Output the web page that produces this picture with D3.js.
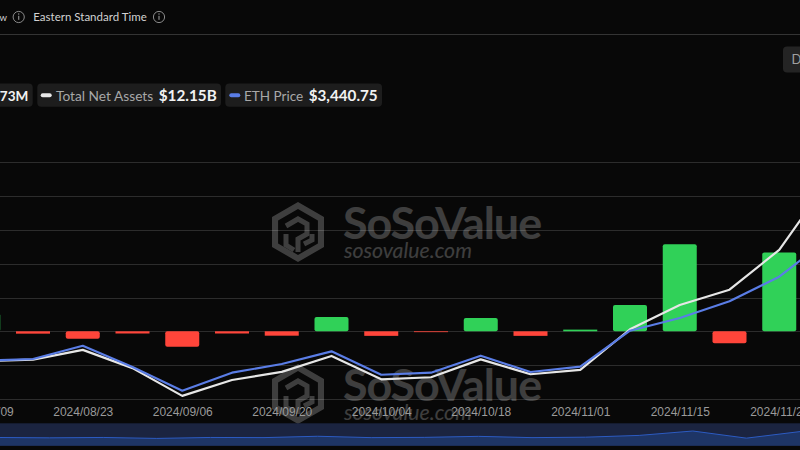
<!DOCTYPE html>
<html>
<head>
<meta charset="utf-8">
<script src="https://cdn.jsdelivr.net/npm/d3@7"></script>
<style>
html,body{margin:0;padding:0;background:#080808;overflow:hidden;}
svg{display:block;}
</style>
</head>
<body>
<svg id="chart" width="800" height="450"></svg>
<script>
// ---------- data ----------
const dates = ["2024-08-09","2024-08-16","2024-08-23","2024-08-30","2024-09-06","2024-09-13",
  "2024-09-20","2024-09-27","2024-10-04","2024-10-11","2024-10-18","2024-10-25",
  "2024-11-01","2024-11-08","2024-11-15","2024-11-22","2024-11-29","2024-12-06"];
// weekly net inflow, $M
const netInflow = [105,-14,-44,-13,-91,-13,-26,85,-27,-5,78,-27,10,155,515,-70,467,837];
// total net assets, $B
const totalNetAssets = [7.02,7.06,7.35,6.81,5.99,6.46,6.70,7.17,6.48,6.54,7.07,6.63,6.76,7.96,8.68,9.13,10.31,12.38];
// ETH price, $
const ethPrice = [2654,2672,2829,2577,2297,2510,2613,2763,2486,2510,2711,2518,2581,3007,3157,3355,3646,4104];
const xTickDates = ["2024-08-09","2024-08-23","2024-09-06","2024-09-20","2024-10-04","2024-10-18","2024-11-01","2024-11-15","2024-11-29"];
const barTicks = [-400,-200,0,200,400,600,800,1000];

const legendNetValue = "73M";
const legendAssetsLabel = "Total Net Assets", legendAssetsValue = "$12.15B";
const legendPriceLabel = "ETH Price", legendPriceValue = "$3,440.75";

// ---------- layout ----------
const svg = d3.select("#chart");
const W = 800, H = 450;
const plotTop = 162.3, plotBottom = 398.9;
const FONT = "Lato, 'Noto Sans', sans-serif";

// scale a text's font size so it spans a target width
function fit(sel, target){
  const n = sel.node();
  const fs = parseFloat(sel.attr("font-size"));
  const w = n.getComputedTextLength();
  if (w > 0) sel.attr("font-size", (fs * target / w).toFixed(2));
  return sel;
}

svg.append("rect").attr("width",W).attr("height",H).attr("fill","#080808");

const x = d3.scalePoint().domain(dates).range([-16.75, 829]);
const yBar = d3.scaleLinear().domain([-400,1000]).range([plotBottom, plotTop]);
const yAssets = d3.scaleLinear().domain([5.9,12.9]).range([plotBottom, plotTop]);
const yPrice = d3.scaleLinear().domain([2200,5000]).range([plotBottom, plotTop]);
const barW = 34;

// ---------- header ----------
const head = svg.append("g").attr("font-family", FONT);
fit(head.append("text").attr("x",7).attr("y",20.7).attr("text-anchor","end")
  .attr("font-size",13).attr("fill","#d2d2d2").text("w"), 7.5);
function infoIcon(cx, cy){
  const g = head.append("g");
  g.append("circle").attr("cx",cx).attr("cy",cy).attr("r",5.6).attr("fill","none")
    .attr("stroke","#8a8a8a").attr("stroke-width",1);
  g.append("rect").attr("x",cx-0.6).attr("y",cy-1.2).attr("width",1.2).attr("height",4).attr("fill","#8a8a8a");
  g.append("circle").attr("cx",cx).attr("cy",cy-2.9).attr("r",0.75).attr("fill","#8a8a8a");
}
infoIcon(18.7, 17);
fit(head.append("text").attr("x",33.3).attr("y",20.7).attr("font-size",13).attr("fill","#d2d2d2")
  .text("Eastern Standard Time"), 113.4);
infoIcon(159, 17);
svg.append("line").attr("x1",0).attr("x2",W).attr("y1",34.5).attr("y2",34.5)
  .attr("stroke","#343434").attr("stroke-width",1);

// D button
svg.append("rect").attr("x",783).attr("y",46.5).attr("width",30).attr("height",26).attr("rx",4)
  .attr("fill","#242424");
svg.append("text").attr("x",791.5).attr("y",64.2).attr("font-family",FONT).attr("font-size",13)
  .attr("fill","#a0a0a0").text("D");

// ---------- legend ----------
const leg = svg.append("g").attr("font-family", FONT);
const pills = [[-10,32.7],[37.3,221],[225.3,382]];
pills.forEach(p => leg.append("rect").attr("x",p[0]).attr("y",83.5).attr("width",p[1]-p[0])
  .attr("height",23.3).attr("rx",4).attr("fill","#1d1d1d"));
fit(leg.append("text").attr("x",28.3).attr("y",100.8).attr("text-anchor","end").attr("font-size",16)
  .attr("font-weight",700).attr("fill","#f2f2f2").text(legendNetValue), 28.5);
leg.append("rect").attr("x",40.7).attr("y",93.3).attr("width",11).attr("height",4).attr("rx",2).attr("fill","#e8e8e8");
fit(leg.append("text").attr("x",56).attr("y",100.8).attr("font-size",15).attr("fill","#a8a8a8").text(legendAssetsLabel), 97.3);
fit(leg.append("text").attr("x",216.7).attr("y",100.8).attr("text-anchor","end").attr("font-size",16)
  .attr("font-weight",700).attr("fill","#f2f2f2").text(legendAssetsValue), 58);
leg.append("rect").attr("x",229.3).attr("y",93.3).attr("width",11).attr("height",4).attr("rx",2).attr("fill","#5a7de6");
fit(leg.append("text").attr("x",244).attr("y",100.8).attr("font-size",15).attr("fill","#a8a8a8").text(legendPriceLabel), 59.3);
fit(leg.append("text").attr("x",377.7).attr("y",100.8).attr("text-anchor","end").attr("font-size",16)
  .attr("font-weight",700).attr("fill","#f2f2f2").text(legendPriceValue), 69);

// ---------- grid ----------
svg.append("g").selectAll("line").data(barTicks).join("line")
  .attr("x1",0).attr("x2",W)
  .attr("y1",d=>Math.round(yBar(d))+0.5).attr("y2",d=>Math.round(yBar(d))+0.5)
  .attr("stroke","#2c2c2c").attr("stroke-width",1);

// ---------- watermarks ----------
function watermark(dy){
  const g = svg.append("g").attr("transform",`translate(0,${dy})`).attr("opacity",0.22);
  const cx = 298, cy = 232, r = 30;
  const hex = d3.range(6).map(i => {
    const a = Math.PI/180*(60*i - 90);
    return [cx + r*Math.cos(a), cy + r*Math.sin(a)];
  });
  const hexIn = d3.range(6).map(i => {
    const a = Math.PI/180*(60*i - 90);
    return [cx + (r-7)*Math.cos(a), cy + (r-7)*Math.sin(a)];
  });
  const path = "M" + hex.map(p=>p.join(",")).join("L") + "Z" +
               "M" + hexIn.reverse().map(p=>p.join(",")).join("L") + "Z";
  g.append("path").attr("d",path).attr("fill","#fff").attr("fill-rule","evenodd");
  const s = "#fff";
  g.append("path").attr("d",`M${cx-12},${cy-6} L${cx},${cy-13} L${cx+9},${cy-8} L${cx+9},${cy+2} L${cx},${cy+7} L${cx},${cy+20}`)
    .attr("fill","none").attr("stroke",s).attr("stroke-width",5).attr("stroke-linejoin","miter");
  g.append("path").attr("d",`M${cx-12},${cy+2} L${cx-12},${cy+13} L${cx-4},${cy+18}`)
    .attr("fill","none").attr("stroke",s).attr("stroke-width",5);
  g.append("path").attr("d",`M${cx+6},${cy+12} L${cx+14},${cy+8} L${cx+14},${cy+2}`)
    .attr("fill","none").attr("stroke",s).attr("stroke-width",5);
  fit(g.append("text").attr("x",343).attr("y",238.5).attr("font-family",FONT).attr("font-size",40)
    .attr("font-weight",700).attr("letter-spacing",-1).attr("fill","#fff").text("SoSoValue"), 197);
  fit(g.append("text").attr("x",344).attr("y",257.5).attr("font-family",FONT).attr("font-size",21)
    .attr("font-style","italic").attr("fill","#fff").text("sosovalue.com"), 128);
}
watermark(0);
watermark(162);

// ---------- bars ----------
svg.append("g").selectAll("rect").data(dates.map((d,i)=>({d, v:netInflow[i]}))).join("rect")
  .attr("x", d => x(d.d) - barW/2)
  .attr("width", barW)
  .attr("y", d => Math.min(yBar(d.v), yBar(0)))
  .attr("height", d => Math.abs(yBar(d.v) - yBar(0)))
  .attr("rx", d => Math.abs(yBar(d.v) - yBar(0)) > 5 ? 2 : 0)
  .attr("fill", d => d.v >= 0 ? "#30d158" : "#ff453a");

// ---------- lines ----------
const lineAssets = d3.line().x((d,i)=>x(dates[i])).y(d=>yAssets(d));
const linePrice = d3.line().x((d,i)=>x(dates[i])).y(d=>yPrice(d));
svg.append("path").attr("d", lineAssets(totalNetAssets)).attr("fill","none")
  .attr("stroke","#e6e6e6").attr("stroke-width",2.2).attr("stroke-linejoin","round");
svg.append("path").attr("d", linePrice(ethPrice)).attr("fill","none")
  .attr("stroke","#5a7de6").attr("stroke-width",2.2).attr("stroke-linejoin","round");

// ---------- x axis ----------
const fmt = d => d.replace(/-/g,"/");
const xAxis = d3.axisBottom(x).tickValues(xTickDates).tickFormat(fmt).tickSize(0).tickPadding(8.5);
const gx = svg.append("g").attr("transform",`translate(0,${plotBottom})`).call(xAxis);
gx.select(".domain").remove();
gx.selectAll("text").attr("font-family","'Liberation Sans', Arial, sans-serif")
  .attr("font-size",12).attr("fill","#9a9a9a");

// ---------- data zoom slider ----------
const sTop = 423.3, sBot = 445.7;
svg.append("rect").attr("x",0).attr("y",sTop).attr("width",W).attr("height",sBot-sTop).attr("fill","#1b2440");
const xs = d3.scalePoint().domain(dates).range([800-16*53.6, 800+53.6]);
const ys = d3.scaleLinear().domain([0,515]).range([437.3,431.0]);
const area = d3.area().x((d,i)=>xs(dates[i])).y0(sBot).y1(d=>ys(d));
svg.append("path").attr("d",area(netInflow)).attr("fill","#1e3566");
svg.append("path").attr("d",d3.line().x((d,i)=>xs(dates[i])).y(d=>ys(d))(netInflow))
  .attr("fill","none").attr("stroke","#2c5bc2").attr("stroke-width",1);
</script>
</body>
</html>
